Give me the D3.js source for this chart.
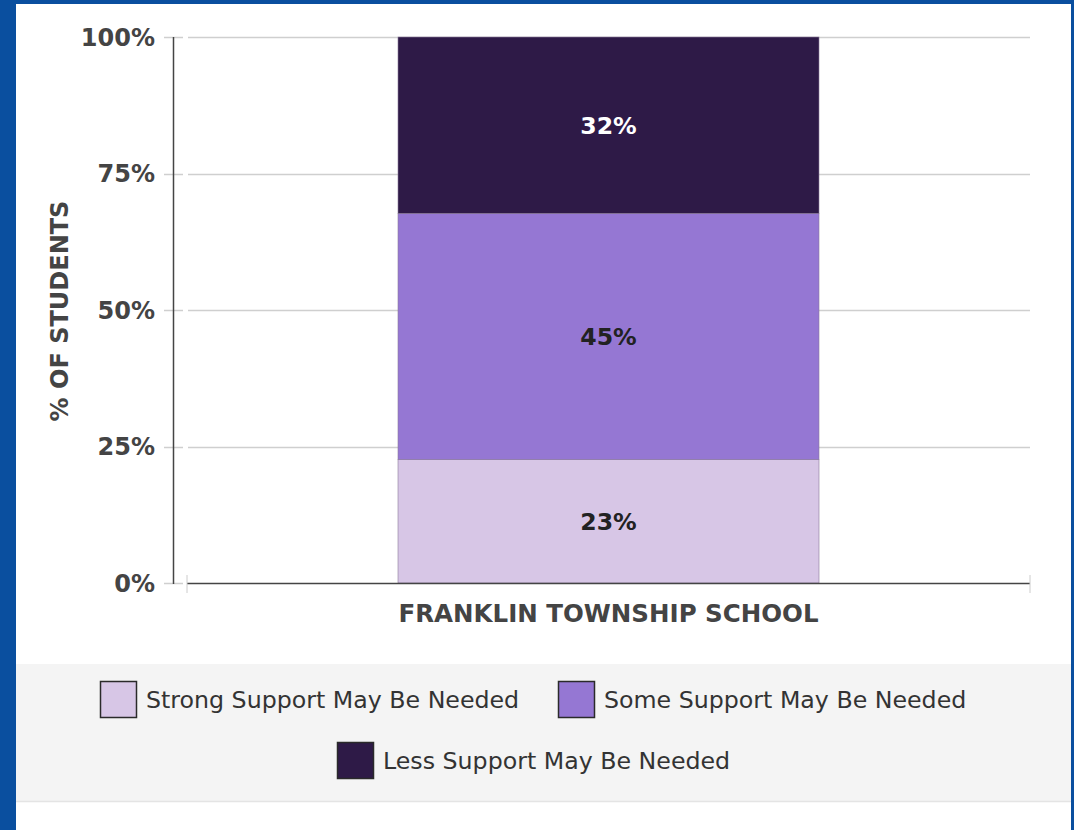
<!DOCTYPE html>
<html><head><meta charset="utf-8">
<script src="https://cdn.jsdelivr.net/npm/d3@7"></script>
<style>
html,body{margin:0;padding:0;background:#0a4f9f;}
svg{display:block;}
svg text{font-family:"DejaVu Sans","Liberation Sans",sans-serif;}
</style></head>
<body>
<svg id="chart" width="1074" height="830"></svg>
<script>
const categories = ["FRANKLIN TOWNSHIP SCHOOL"];
const seriesNames = ["Strong Support May Be Needed", "Some Support May Be Needed", "Less Support May Be Needed"];
const strongValues = [22.6];
const someValues = [45.1];
const lessValues = [32.3];
const yTicks = [0, 25, 50, 75, 100];
const colors = ["#d7c6e6", "#9577d3", "#2e1a47"];
const labelColors = ["#222", "#222", "#fff"];

const svg = d3.select("#chart");

// panel
svg.append("rect").attr("x",16).attr("y",4).attr("width",1055).attr("height",826).attr("fill","#fff");
svg.append("rect").attr("x",16).attr("y",664).attr("width",1055).attr("height",137).attr("fill","#f4f4f4");
svg.append("line").attr("x1",16).attr("x2",1071).attr("y1",801.5).attr("y2",801.5).attr("stroke","#e4e4e4").attr("stroke-width",1.5);

const y = d3.scaleLinear().domain([0,100]).range([583,37]);
const x = d3.scaleBand().domain(categories).range([187,1030]).paddingInner(0).paddingOuter((843-421)/2/421);

// gridlines
const g = svg.append("g");
g.selectAll("line.grid").data(yTicks.filter(d=>d>0)).join("line")
  .attr("x1",188).attr("x2",1030).attr("y1",d=>Math.round(y(d))+0.5).attr("y2",d=>Math.round(y(d))+0.5)
  .attr("stroke","#cfcfcf").attr("stroke-width",1.5);
// y ticks
g.selectAll("line.tick").data(yTicks).join("line")
  .attr("x1",164).attr("x2",183).attr("y1",d=>Math.round(y(d))+0.5).attr("y2",d=>Math.round(y(d))+0.5)
  .attr("stroke","#cfcfcf").attr("stroke-width",1.5);
g.selectAll("text.yt").data(yTicks).join("text")
  .attr("x",155).attr("y",d=>y(d)).attr("dy","0.36em").attr("text-anchor","end")
  .attr("font-weight","bold").attr("font-size",24).attr("fill","#444")
  .text(d=>d+"%");

// y title
svg.append("text").attr("transform","translate(68,311) rotate(-90)").attr("text-anchor","middle")
  .attr("font-weight","bold").attr("font-size",24).attr("fill","#444")
  .text("% OF STUDENTS");

// stacked data
const rows = categories.map((c,i)=>({cat:c, s0:strongValues[i], s1:someValues[i], s2:lessValues[i]}));
const stack = d3.stack().keys(["s0","s1","s2"])(rows);

stack.forEach((layer,li)=>{
  const lg = svg.append("g");
  lg.selectAll("rect").data(layer).join("rect")
    .attr("x",d=>x(d.data.cat)).attr("width",x.bandwidth())
    .attr("y",d=>y(d[1])).attr("height",d=>y(d[0])-y(d[1]))
    .attr("fill",colors[li]).attr("stroke","#8a7a99").attr("stroke-width",0.6);
  lg.selectAll("text").data(layer).join("text")
    .attr("x",d=>x(d.data.cat)+x.bandwidth()/2).attr("y",d=>(y(d[0])+y(d[1]))/2)
    .attr("dy","0.36em").attr("text-anchor","middle")
    .attr("font-weight","bold").attr("font-size",23.6).attr("fill",labelColors[li])
    .text(d=>Math.round(d[1]-d[0])+"%");
});

// axes lines
svg.append("line").attr("x1",173.5).attr("x2",173.5).attr("y1",37).attr("y2",584).attr("stroke","#444").attr("stroke-width",1.5);
svg.append("line").attr("x1",187).attr("x2",1030).attr("y1",583.5).attr("y2",583.5).attr("stroke","#444").attr("stroke-width",1.5);
[187,1030].forEach(xx=>svg.append("line").attr("x1",xx).attr("x2",xx).attr("y1",575).attr("y2",593).attr("stroke","#ccc").attr("stroke-width",1));

// x labels
svg.selectAll("text.xl").data(categories).join("text")
  .attr("x",d=>x(d)+x.bandwidth()/2).attr("y",613).attr("dy","0.36em").attr("text-anchor","middle")
  .attr("font-weight","bold").attr("font-size",24.5).attr("fill","#444")
  .text(d=>d);

// legend
const legendPos = [{sx:100,sy:681},{sx:558,sy:681},{sx:337,sy:742}];
const lgd = svg.append("g");
seriesNames.forEach((n,i)=>{
  const p = legendPos[i];
  lgd.append("rect").attr("x",p.sx+0.5).attr("y",p.sy+0.5).attr("width",36).attr("height",36)
    .attr("fill",colors[i]).attr("stroke","#2a2a2a").attr("stroke-width",1.5);
  lgd.append("text").attr("x",p.sx+46).attr("y",p.sy+18.5).attr("dy","0.36em")
    .attr("font-size",23.7).attr("fill","#333").text(n);
});
</script>
</body></html>
